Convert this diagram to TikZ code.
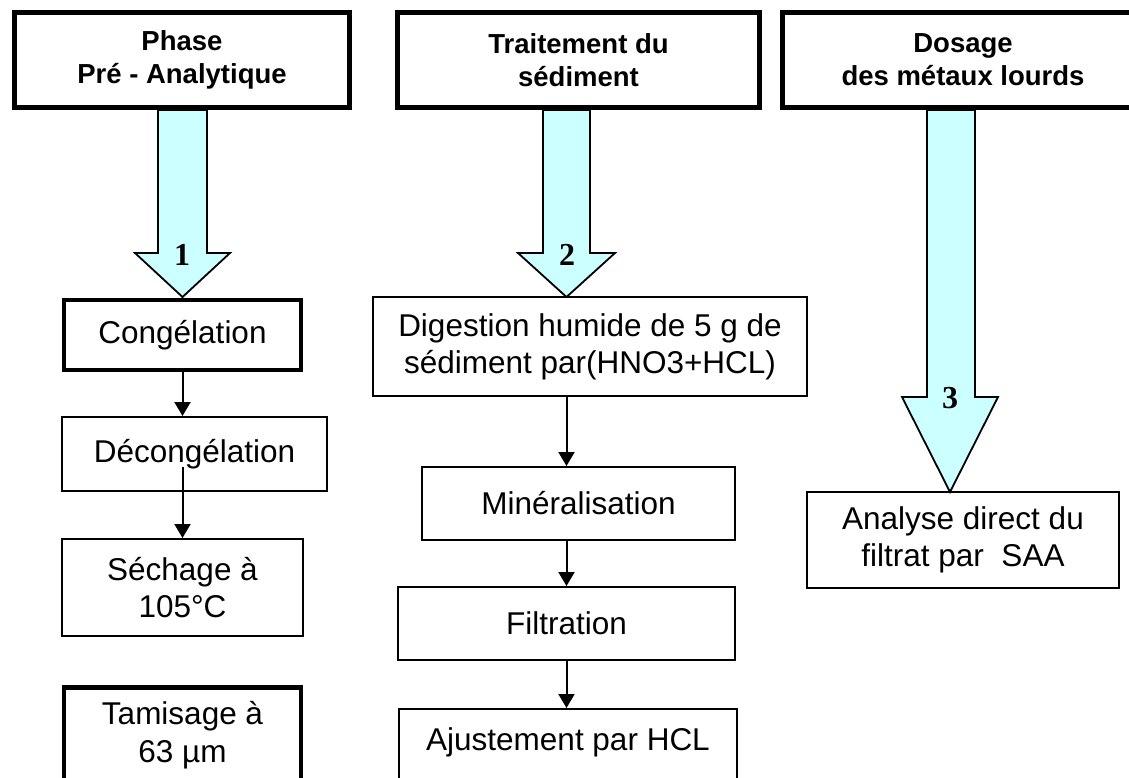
\documentclass[tikz,border=0pt]{standalone}
\usepackage{fontspec}
\setmainfont{Liberation Sans}
\newfontfamily\numfont{Liberation Serif}
\usetikzlibrary{arrows.meta,calc}
\definecolor{lcyan}{HTML}{CCFFFF}
\begin{document}
\begin{tikzpicture}[x=1pt,y=-1pt,
  hdr/.style={draw, line width=5pt, minimum width=#1, minimum height=95pt, align=center,
    font=\bfseries\fontsize{27.5}{33}\selectfont, inner sep=0pt},
  thinbox/.style={draw, line width=2pt, align=center, inner sep=0pt,
    font=\fontsize{31.5}{37}\selectfont},
  thickbox/.style={thinbox, line width=4.5pt},
  txt/.style={align=center, inner sep=0pt, font=\fontsize{31.5}{38}\selectfont},
  bigarrow/.style={draw, fill=lcyan, line width=1.8pt, line join=miter},
  num/.style={inner sep=0pt, font=\numfont\bfseries\fontsize{32}{36}\selectfont},
  conn/.style={line width=2pt, -{Triangle[length=14pt,width=16pt]}}
]
\clip (0,0) rectangle (1129,777);
\fill[white] (0,0) rectangle (1129,777);

% big arrows
\draw[bigarrow] (158,110) -- (158,253) -- (135,253) -- (182.5,297) -- (230,253) -- (207,253) -- (207,110) -- cycle;
\draw[bigarrow] (543,110) -- (543,253) -- (518,253) -- (566.5,297) -- (615,253) -- (590,253) -- (590,110) -- cycle;
\draw[bigarrow] (927,110) -- (927,397) -- (902,397) -- (950,492) -- (998,397) -- (975,397) -- (975,110) -- cycle;

\node[num] (n1) at (182,255) {1};
\node[num] (n2) at (567,255) {2};
\node[num] (n3) at (950,398) {3};

% headers
\node[hdr=335pt, fill=white] (h1) at (182,60) {Phase\\Pré - Analytique};
\node[hdr=362pt, fill=white] (h2) at (578.5,60) {Traitement du\\sédiment};
\node[hdr=361pt, fill=white] (h3) at (963,60) {Dosage\\des métaux lourds};

% column 1
\node[thickbox, minimum width=237pt, minimum height=70pt] (cong) at (182.5,335) {Congélation};
\node[thinbox, minimum width=265pt, minimum height=74pt] (dec) at (194.5,454) {Décongélation};
\node[thinbox, minimum width=241pt, minimum height=97pt] (sech) at (182.5,587.5) {Séchage à\\105°C};
\node[thickbox, minimum width=237pt, minimum height=120pt, anchor=north] (tam) at (182.5,685) {};
\node[txt] (tamt) at (182.5,735) {Tamisage à\\63 µm};

\draw[conn] (cong.south) -- (cong.south |- dec.north);
\coordinate (d0) at ($(cong.south |- dec.south)+(0,-25)$);
\draw[conn] (d0) -- (cong.south |- sech.north);

% column 2
\node[thinbox, minimum width=434pt, minimum height=99pt] (dig) at (590,346.5) {Digestion humide de 5 g de\\sédiment par(HNO3+HCL)};
\node[thinbox, minimum width=313pt, minimum height=73pt] (min) at (578.5,503.5) {Minéralisation};
\node[thinbox, minimum width=337pt, minimum height=73pt] (filt) at (566.5,623.5) {Filtration};
\node[thinbox, minimum width=338pt, minimum height=110pt, anchor=north] (aju) at (568,708) {};
\node[txt] (ajut) at (568,742) {Ajustement par HCL};

\draw[conn] (filt.north |- dig.south) -- (filt.north |- min.north);
\draw[conn] (filt.north |- min.south) -- (filt.north);
\draw[conn] (filt.south) -- (filt.south |- aju.north);

% column 3
\node[thinbox, minimum width=312pt, minimum height=96pt] (ana) at (963,540) {Analyse direct du\\filtrat par~~SAA};
\end{tikzpicture}
\end{document}
